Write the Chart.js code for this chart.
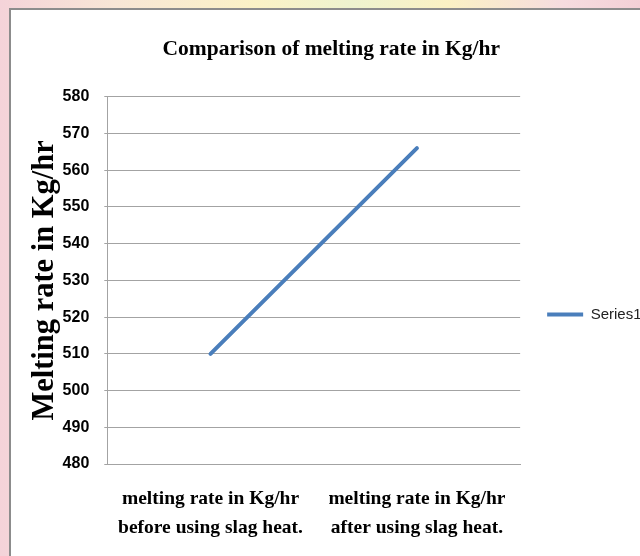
<!DOCTYPE html>
<html>
<head>
<meta charset="utf-8">
<title>Comparison of melting rate in Kg/hr</title>
<script src="https://cdn.jsdelivr.net/npm/chart.js@4/dist/chart.umd.min.js"></script>
<style>
  html, body { margin: 0; padding: 0; width: 640px; height: 556px; overflow: hidden; }
  body {
    background:
      linear-gradient(90deg, #f4d3d9 0, #f8e6d6 18%, #fbf2c6 40%, #eef3cf 55%, #fbf1c4 70%, #f6dcdf 88%, #f3d0d6 100%);
  }
  #frame {
    position: absolute; left: 9px; top: 8px;
    width: 660px; height: 560px;
    background: #fff;
    border: 2px solid #8c8c8c;
  }
  #wrap { position: absolute; left: 0; top: 0; width: 644px; height: 546px; }
</style>
</head>
<body>
<div id="frame"><div id="wrap"><canvas id="c"></canvas></div></div>
<script>
// Two measurements: melting rate before and after using slag heat
const categories = [
  ['melting rate in Kg/hr', 'before using slag heat.'],
  ['melting rate in Kg/hr', 'after using slag heat.']
];
const seriesName = 'Series1';
const meltingRate = [510, 566];
const yMin = 480, yMax = 580, yStep = 10;

const serifBold = { family: "'Liberation Serif', 'Times New Roman', serif", weight: 'bold' };
const sans = "'Liberation Sans', Arial, sans-serif";
const gridGray = '#a3a3a3';

new Chart(document.getElementById('c'), {
  type: 'line',
  data: {
    labels: categories,
    datasets: [{
      label: seriesName,
      data: meltingRate,
      borderColor: '#4a7ebb',
      backgroundColor: '#4a7ebb',
      borderWidth: 4,
      borderCapStyle: 'round',
      pointRadius: 0,
      pointHoverRadius: 0,
      tension: 0,
      fill: false
    }]
  },
  options: {
    responsive: true,
    maintainAspectRatio: false,
    animation: false,
    layout: { padding: { left: 0, right: 3.5, top: 0, bottom: -6.5 } },
    plugins: {
      title: {
        display: true,
        text: 'Comparison of melting rate in Kg/hr',
        color: '#000',
        font: { ...serifBold, size: 21.5 },
        padding: { top: 27, bottom: 34 }
      },
      legend: {
        position: 'right',
        align: 'center',
        title: { display: true, text: '', padding: 21 },
        labels: {
          usePointStyle: true,
          pointStyle: 'line',
          pointStyleWidth: 36,
          boxHeight: 4,
          color: '#222',
          font: { family: sans, size: 15 },
          padding: 27
        }
      },
      tooltip: { enabled: false }
    },
    scales: {
      x: {
        offset: true,
        grid: { display: false, drawTicks: false },
        border: { display: true, color: gridGray, width: 1 },
        ticks: {
          color: '#000',
          font: { ...serifBold, size: 19.5, lineHeight: 1.5 },
          padding: 20,
          maxRotation: 0,
          autoSkip: false
        }
      },
      y: {
        min: yMin,
        max: yMax,
        grid: { color: gridGray, lineWidth: 1, tickLength: 3 },
        border: { display: true, color: gridGray, width: 1 },
        ticks: {
          stepSize: yStep,
          color: '#000',
          font: { family: sans, size: 16, weight: 'bold' },
          padding: 15
        },
        title: {
          display: true,
          text: 'Melting rate in Kg/hr',
          color: '#000',
          font: { ...serifBold, size: 30.5 },
          padding: { top: 16, bottom: -16 }
        }
      }
    }
  }
});
</script>
</body>
</html>
